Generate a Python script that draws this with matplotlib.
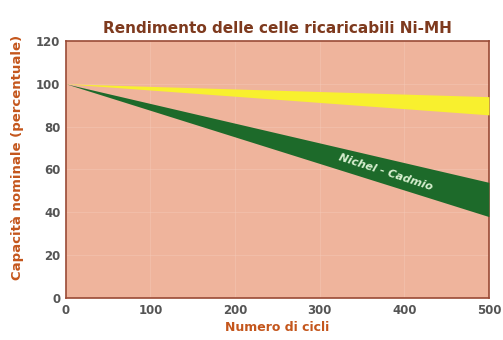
import numpy as np
import matplotlib
matplotlib.use("Agg")
import matplotlib.pyplot as plt

# cycle counts and capacity (%)
cycles = [0, 500]
nimh_top = [100, 94]
nimh_bottom = [100, 85.5]
nicd_top = [100, 54]
nicd_bottom = [100, 38]

x_ticks = [0, 100, 200, 300, 400, 500]
y_ticks = [0, 20, 40, 60, 80, 100, 120]

fig = plt.figure(figsize=(5.03, 3.40), dpi=100)
fig.patch.set_facecolor("white")
ax = fig.add_axes([0.131, 0.1235, 0.841, 0.756])
ax.set_facecolor("#efb49c")

ax.fill_between(cycles, nimh_bottom, nimh_top, color="#f8f02e", lw=0, zorder=3)
ax.fill_between(cycles, nicd_bottom, nicd_top, color="#1d6a2a", lw=0, zorder=3)

ax.set_xlim(0, 500)
ax.set_ylim(0, 120)
ax.set_xticks(x_ticks)
ax.set_yticks(y_ticks)
ax.grid(color="#f6cdbb", lw=0.8, alpha=0.4, zorder=1)
ax.set_axisbelow(True)
ax.tick_params(length=0, labelsize=8.5, labelcolor="#555555", pad=4)
for lab in ax.get_xticklabels() + ax.get_yticklabels():
    lab.set_fontweight("bold")
for s in ax.spines.values():
    s.set_color("#9a4a35")
    s.set_linewidth(1.2)

ax.text(378, 58.5, "Nichel - Cadmio", rotation=-18, rotation_mode="anchor",
        ha="center", va="center", fontsize=8, fontweight="bold", style="italic",
        color="#d8f0d0", zorder=4)

ax.set_title("Rendimento delle celle ricaricabili Ni-MH", fontsize=11,
             fontweight="bold", color="#7e3a1e", pad=6)
ax.set_xlabel("Numero di cicli", fontsize=9, fontweight="bold", color="#c4561c", labelpad=3)
ax.set_ylabel("Capacità nominale (percentuale)", fontsize=9.5, fontweight="bold",
              color="#c4561c", labelpad=4)
ax.yaxis.set_label_coords(-0.1, 0.545)

fig.savefig("out.png", dpi=100)
